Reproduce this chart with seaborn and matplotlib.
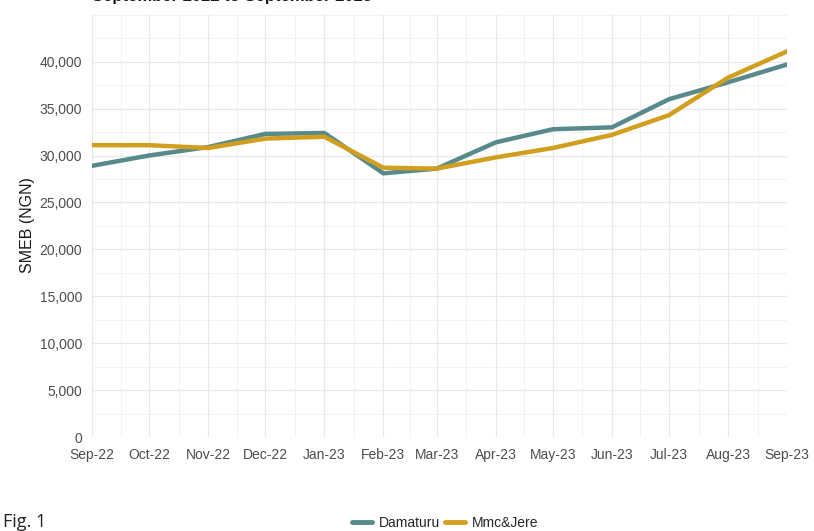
import pandas as pd
import seaborn as sns
import matplotlib.pyplot as plt
import matplotlib.dates as mdates
import matplotlib.ticker as mticker

# monthly SMEB values
months = ['2022-09-01', '2022-10-01', '2022-11-01', '2022-12-01', '2023-01-01',
          '2023-02-01', '2023-03-01', '2023-04-01', '2023-05-01', '2023-06-01',
          '2023-07-01', '2023-08-01', '2023-09-01']
damaturu = [28900, 30000, 30900, 32300, 32400, 28100, 28600,
            31400, 32800, 33000, 36000, 37800, 39700]
mmc_jere = [31100, 31100, 30800, 31800, 32000, 28700, 28600,
            29800, 30800, 32200, 34300, 38300, 41100]
markets = ['Damaturu', 'Mmc&Jere']
colours = ['#588a8b', '#d19f1d']
y_breaks = [0, 5000, 10000, 15000, 20000, 25000, 30000, 35000, 40000]

df = pd.DataFrame({'date': pd.to_datetime(months),
                   'Damaturu': damaturu, 'Mmc&Jere': mmc_jere})
df = pd.melt(df, id_vars=['date'], var_name='market', value_name='smeb')

sns.set_theme(style='whitegrid')
plt.rcParams['font.family'] = ['Liberation Sans', 'DejaVu Sans']

fig = plt.figure(figsize=(8.14, 5.31), dpi=100)
ax = fig.add_axes([0.113, 0.177, 0.854, 0.797])

sns.lineplot(data=df, x='date', y='smeb', hue='market', hue_order=markets,
             palette=colours, linewidth=3.2, ax=ax, legend=False)

dates = pd.to_datetime(months)
ax.set_xlim(dates[0], dates[-1])
ax.set_ylim(0, 45100)
ax.set_xticks(dates)
mids = [dates[i] + (dates[i + 1] - dates[i]) / 2 for i in range(len(dates) - 1)]
ax.set_xticks(mids, minor=True)
ax.xaxis.set_major_formatter(mdates.DateFormatter('%b-%y'))
ax.yaxis.set_major_locator(mticker.FixedLocator(y_breaks))
ax.yaxis.set_minor_locator(mticker.MultipleLocator(2500))
ax.yaxis.set_major_formatter(mticker.StrMethodFormatter('{x:,.0f}'))

ax.grid(which='major', color='#e8e8e8', linewidth=0.9)
ax.grid(which='minor', color='#f0f0f0', linewidth=0.6)
ax.set_axisbelow(True)
for s in ax.spines.values():
    s.set_visible(False)
ax.tick_params(axis='both', which='both', length=0, labelsize=10,
               labelcolor='#4d4d4d')
ax.tick_params(axis='x', pad=8)
ax.tick_params(axis='y', pad=7)
ax.set_xlabel('')
ax.set_ylabel('SMEB (NGN)', fontsize=11.5, color='#1a1a1a', labelpad=3)

# title sits mostly above the cropped frame
fig.text(0.113, 1.006, 'September 2022 to September 2023', fontsize=12,
         fontweight='bold', color='#1a1a1a', ha='left', va='center')

handles = [plt.Line2D([], [], color=c, linewidth=3.5) for c in colours]
fig.legend(handles, markets, loc='center', bbox_to_anchor=(0.547, 0.015),
           ncol=2, frameon=False, fontsize=10, handlelength=1.4,
           handletextpad=0.5, columnspacing=0.4)

fig.text(0.004, 0.017, 'Fig. 1', fontsize=13, color='#222222',
         ha='left', va='center', family=['Open Sans', 'DejaVu Sans'])

fig.savefig('out.png', dpi=100)
